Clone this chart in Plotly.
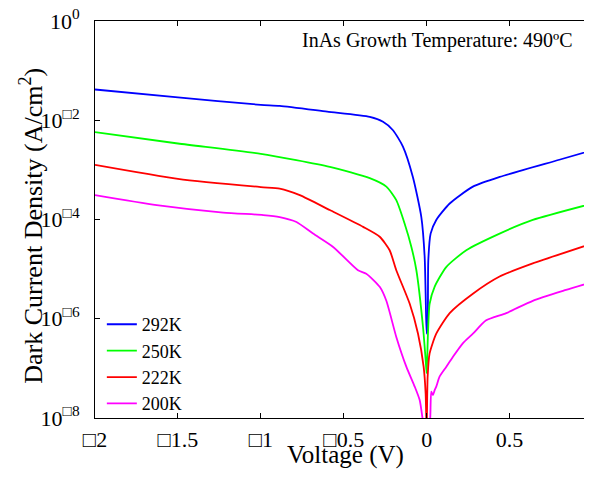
import plotly.graph_objects as go

# ---- data (voltage in V, dark current density in A/cm^2) ----
v_292 = [-2.0, -1.5, -1.0, -0.886, -0.6, -0.343, -0.263, -0.203, -0.143, -0.083, -0.032, -0.012,
         -0.006, 0.0, 0.006, 0.01, 0.024, 0.058, 0.139, 0.279, 0.44, 0.8, 1.0]
j_292 = [4.17e-2, 2.88e-2, 2.04e-2, 1.95e-2, 1.49e-2, 1.17e-2, 9.3e-3, 6.3e-3, 2.95e-3, 7.2e-4,
         1.12e-4, 1.78e-5, 3.2e-6, 5.0e-7, 6.9e-7, 1.5e-5, 5.2e-5, 9.8e-5, 2.1e-4, 4.6e-4, 7.2e-4,
         1.6e-3, 2.5e-3]

v_250 = [-2.0, -1.5, -1.0, -0.584, -0.343, -0.243, -0.183, -0.133, -0.092, -0.062, -0.022,
         -0.006, 0.0, 0.008, 0.018, 0.048, 0.118, 0.239, 0.44, 0.64, 1.0]
j_250 = [5.75e-3, 3.4e-3, 2.1e-3, 1.15e-3, 6.8e-4, 4.6e-4, 2.45e-4, 8.3e-5, 2.8e-5,
         9.5e-6, 6.9e-7, 1.5e-7, 8.0e-8, 5.0e-7, 2.0e-6, 4.4e-6, 1.1e-5, 2.4e-5, 5.2e-5, 9.8e-5,
         2.1e-4]

v_222 = [-2.0, -1.5, -1.0, -0.886, -0.765, -0.584, -0.383, -0.283, -0.223, -0.183, -0.102, -0.052,
         -0.018, -0.006, 0.0, 0.006, 0.018, 0.058, 0.139, 0.279, 0.44, 0.64, 1.0]
j_222 = [1.26e-3, 6.6e-4, 4.5e-4, 4.2e-4, 3.1e-4, 1.55e-4, 7.1e-5, 4.5e-5, 2.4e-5, 9.5e-6, 2.0e-6,
         5.0e-7, 1.07e-7, 3.1e-8, 5.0e-9, 6.8e-8, 2.0e-7, 5.0e-7, 1.3e-6, 3.2e-6, 7.1e-6, 1.3e-5,
         3.3e-5]

v_200 = [-2.0, -1.628, -1.227, -0.986, -0.886, -0.785, -0.685, -0.564, -0.414, -0.364, -0.283,
         -0.243, -0.183, -0.122, -0.072, -0.042, -0.026, -0.012, 0.0, 0.012, 0.022, 0.028, 0.038,
         0.048, 0.058, 0.078, 0.118, 0.158, 0.218, 0.279, 0.359, 0.48, 0.64, 0.841, 1.0]
j_200 = [3.1e-4, 1.95e-4, 1.38e-4, 1.23e-4, 1.12e-4, 8.9e-5, 5.2e-5, 2.8e-5, 9.5e-6, 8.1e-6,
         4.4e-6, 2.3e-6, 4.3e-7, 1.07e-7, 4.3e-8, 2.3e-8, 1.05e-8, 4.0e-9, 2.0e-9, 4.0e-9, 1.05e-8,
         3.4e-8, 2.9e-8, 3.6e-8, 4.3e-8, 6.8e-8, 1.07e-7, 1.7e-7, 3.2e-7, 5.0e-7, 9.3e-7, 1.3e-6,
         2.3e-6, 3.8e-6, 5.5e-6]

series = [("292K", v_292, j_292, "#0000FF"),
          ("250K", v_250, j_250, "#00FF00"),
          ("222K", v_222, j_222, "#FF0000"),
          ("200K", v_200, j_200, "#FF00FF")]

x_tickvals = [-2, -1.5, -1, -0.5, 0, 0.5, 1]
x_ticktext = ["\u25a12", "\u25a11.5", "\u25a11", "\u25a10.5", "0", "0.5", "1"]
y_tickvals = [1, 1e-2, 1e-4, 1e-6, 1e-8]
y_ticktext = ["10<sup>0</sup>", "10<sup>\u25a12</sup>", "10<sup>\u25a14</sup>",
              "10<sup>\u25a16</sup>", "10<sup>\u25a18</sup>"]

FONT = "Liberation Serif"

fig = go.Figure()
for name, v, j, c in series:
    fig.add_trace(go.Scatter(x=v, y=j, mode="lines", name=name,
                             line=dict(color=c, width=1.8, shape="spline", smoothing=0.6)))

# page body has an 8px margin: figure sized to fit the window, offsets compensated
fig.update_layout(
    width=576, height=462,
    margin=dict(l=87, r=0, t=13, b=52),
    paper_bgcolor="white", plot_bgcolor="white",
    font=dict(family=FONT, size=22, color="black"),
    showlegend=True,
    legend=dict(x=0.014, y=0.282, xanchor="left", yanchor="top",
                bgcolor="rgba(0,0,0,0)", borderwidth=0,
                font=dict(family=FONT, size=18), itemwidth=30,
                tracegroupgap=0),
    annotations=[
        dict(text="InAs Growth Temperature: 490\u00baC", xref="paper", yref="paper",
             x=0.982, y=0.952, xanchor="right", yanchor="middle", showarrow=False,
             font=dict(family=FONT, size=20)),
        dict(text="Voltage (V)", xref="paper", yref="paper", x=0.513, y=-0.131,
             xanchor="center", yanchor="bottom", showarrow=False, borderpad=0,
             font=dict(family=FONT, size=25)),
        dict(text="Dark Current Density (A/cm<sup>2</sup>)", xref="paper", yref="paper",
             x=-0.129, y=0.484, xanchor="center", yanchor="middle", textangle=-90,
             showarrow=False, font=dict(family=FONT, size=26)),
    ],
)
fig.update_xaxes(range=[-2, 0.949], tickvals=x_tickvals, ticktext=x_ticktext,
                 ticks="inside", ticklen=5, tickcolor="black", automargin=False,
                 ticklabeloverflow="allow",
                 showline=True, linecolor="black", linewidth=1, mirror="ticks",
                 showgrid=False, zeroline=False, ticklabelstandoff=2)
fig.update_yaxes(type="log", range=[-8, 0], tickvals=y_tickvals, ticktext=y_ticktext,
                 ticks="inside", ticklen=5, tickcolor="black", automargin=False,
                 ticklabeloverflow="allow",
                 showline=True, linecolor="black", linewidth=1, mirror=False,
                 showgrid=False, zeroline=False, ticklabelstandoff=10)

fig.write_html("out.html")
